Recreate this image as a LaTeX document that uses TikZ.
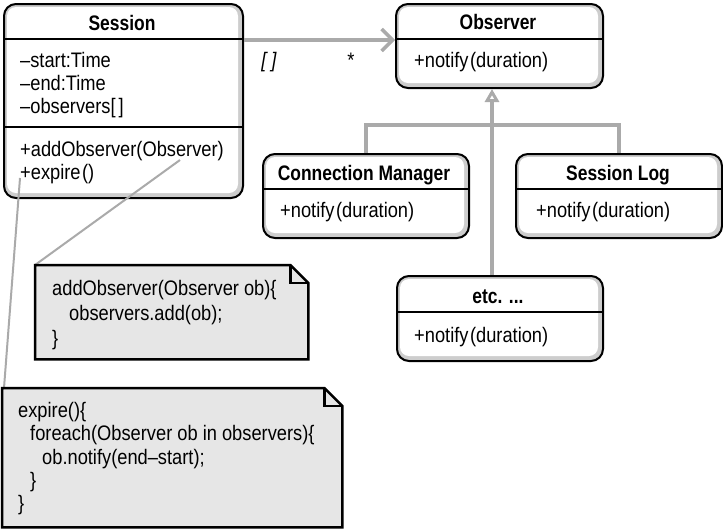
\documentclass[tikz,border=0pt]{standalone}
\usepackage{fontspec}
\setmainfont{Liberation Sans}[FakeStretch=0.87, BoldFeatures={FakeStretch=0.83}]
\usetikzlibrary{arrows.meta,calc}
\definecolor{band}{RGB}{205,205,205}
\definecolor{notefill}{RGB}{230,230,230}
\definecolor{conngray}{RGB}{170,170,170}
\begin{document}
\begin{tikzpicture}[x=1pt,y=-1pt]
\tikzset{
  f/.style={font=\fontsize{21}{25}\selectfont},
  fb/.style={font=\fontsize{21}{25}\selectfont\bfseries},
  umlbox/.style={draw=black, line width=2pt, rounded corners=12pt, fill=band, inner sep=0pt, anchor=north west,
    path picture={\fill[white, rounded corners=9pt] ([xshift=3pt,yshift=-3pt]path picture bounding box.north west) rectangle ([xshift=-5pt,yshift=5pt]path picture bounding box.south east);}},
  sepline/.style={draw=black, line width=1.2pt},
  txt/.style={f, anchor=base west, inner sep=0pt},
  ttl/.style={fb, anchor=base, inner sep=0pt},
  conn/.style={draw=conngray, line width=4pt},
  noteline/.style={draw=conngray, line width=2pt},
  notebox/.style={draw=black, fill=notefill, line width=2.5pt, line join=miter},
  notearea/.style={inner sep=0pt, anchor=north west},
}
\fill[white] (0,0) rectangle (723,531);
\useasboundingbox (0,0) rectangle (723,531);

% class boxes
\node[umlbox, minimum width=239pt, minimum height=194pt] (session) at (3,3) {};
\node[umlbox, minimum width=207pt, minimum height=84pt] (observer) at (395,3) {};
\node[umlbox, minimum width=206pt, minimum height=84pt] (cm) at (262,153) {};
\node[umlbox, minimum width=206pt, minimum height=84pt] (sl) at (515,153) {};
\node[umlbox, minimum width=206pt, minimum height=85pt] (etc) at (396,275) {};

% separators
\draw[sepline] ($(session.north west)+(0,36)$) -- ($(session.north east)+(0,36)$);
\draw[sepline] ($(session.north west)+(0,124)$) -- ($(session.north east)+(0,124)$);
\draw[sepline] ($(observer.north west)+(0,36)$) -- ($(observer.north east)+(0,36)$);
\draw[sepline] ($(cm.north west)+(0,36)$) -- ($(cm.north east)+(0,36)$);
\draw[sepline] ($(sl.north west)+(0,36)$) -- ($(sl.north east)+(0,36)$);
\draw[sepline] ($(etc.north west)+(0,37)$) -- ($(etc.north east)+(0,37)$);

% texts
\node[ttl] (sessionT) at (122,30) {Session};
\node[txt] (sa1) at (20,67) {–start:Time};
\node[txt] (sa2) at (20,90) {–end:Time};
\node[txt] (sa3) at (20,113) {–observers[\kern3pt]};
\node[txt] (sm1) at (20,156) {+addObserver(Observer)};
\node[txt] (sm2) at (20,179) {+expire\kern1.5pt()};

\node[ttl] (observerT) at (498,29) {Observer};
\node[txt] (observerM) at (414,67) {+notify\kern1.5pt(duration)};
\node[ttl] (cmT) at (364,180) {Connection Manager};
\node[txt] (cmM) at (280,217) {+notify\kern1.5pt(duration)};
\node[ttl] (slT) at (618,180) {Session Log};
\node[txt] (slM) at (536,217) {+notify\kern1.5pt(duration)};
\node[ttl] (etcT) at (498,303) {etc. ...};
\node[txt] (etcM) at (414,342) {+notify\kern1.5pt(duration)};

% association
\coordinate (ay) at (0,40);
\draw[conn, -{Straight Barb[length=11pt,width=22pt,line width=3.5pt]}] (session.east |- ay) -- (observer.west |- ay);
\node[f, anchor=base, inner sep=0pt, font=\fontsize{21}{25}\selectfont\itshape] (mult1) at (269,67) {[\kern5pt]};
\node[f, anchor=base, inner sep=0pt] (mult2) at (351,67) {*};

% generalization
\coordinate (gx) at (492,125);
\draw[conn, -{Triangle[open, length=13pt, width=14pt, line width=3pt]}] (etc.north -| gx) -- (observer.south -| gx);
\draw[conn] (cm.north) |- (gx) -| (sl.north);

% notes
\node[notearea, minimum width=273pt, minimum height=94pt] (note1) at (35,265) {};
\node[notearea, minimum width=340pt, minimum height=139pt] (note2) at (2,388) {};
\coordinate (n1end) at (180,160);
\coordinate (n2end) at (20,178);
\draw[noteline] (note1.north west) -- (n1end);
\draw[noteline] ($(note2.north west)+(2,0)$) -- (n2end);

\filldraw[notebox] (note1.south west) -- (note1.north west) -- ($(note1.north east)+(-18,0)$) -- ($(note1.north east)+(0,18)$) -- (note1.south east) -- cycle;
\draw[notebox, fill=none] ($(note1.north east)+(-18,0)$) |- ($(note1.north east)+(0,18)$);
\filldraw[notebox] (note2.south west) -- (note2.north west) -- ($(note2.north east)+(-18,0)$) -- ($(note2.north east)+(0,18)$) -- (note2.south east) -- cycle;
\draw[notebox, fill=none] ($(note2.north east)+(-18,0)$) |- ($(note2.north east)+(0,18)$);

\node[txt] (n1l1) at (52,295) {addObserver(Observer ob)\{};
\node[txt] (n1l2) at (69,320) {observers.add(ob);};
\node[txt] (n1l3) at (52,345) {\}};

\node[txt] (n2l1) at (18,417) {expire()\{};
\node[txt] (n2l2) at (30,440) {foreach(Observer ob in observers)\{};
\node[txt] (n2l3) at (42,464) {ob.notify(end–start);};
\node[txt] (n2l4) at (30,487) {\}};
\node[txt] (n2l5) at (18,510) {\}};
\end{tikzpicture}
\end{document}
